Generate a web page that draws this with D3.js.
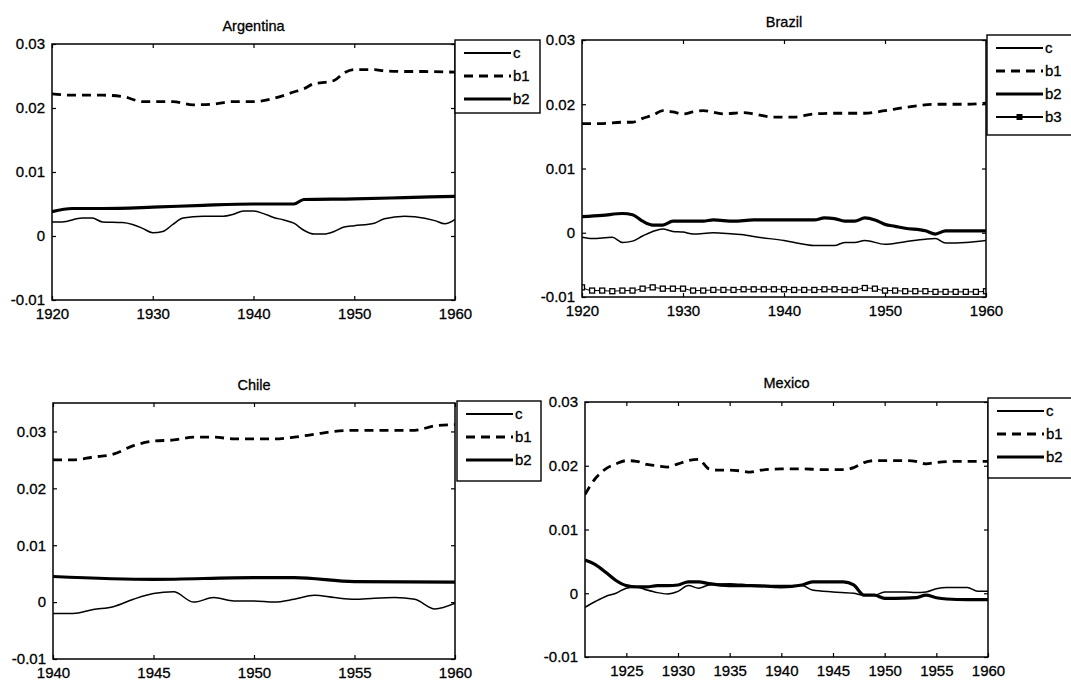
<!DOCTYPE html>
<html>
<head>
<meta charset="utf-8">
<script src="https://cdn.jsdelivr.net/npm/d3@7"></script>
<style>
  html, body { margin: 0; padding: 0; background: #fff; }
  svg { display: block; }
  text { font-family: "Liberation Sans", Arial, Helvetica, sans-serif; fill: #000; stroke: #000; stroke-width: 0.3px; }
</style>
</head>
<body>
<svg id="chart" width="1071" height="680"></svg>
<script>
// ---------------- DATA ([year, value]) ----------------
const argC  = [[1920,0.0022],[1921,0.0022],[1923,0.0028],[1924,0.0028],[1925,0.0022],[1927,0.0021],[1928,0.0018],[1929,0.0012],[1930,0.0005],[1931,0.0007],[1932,0.0018],[1933,0.0028],[1935,0.0031],[1937,0.0031],[1938,0.0034],[1939,0.0039],[1940,0.0039],[1941,0.0035],[1942,0.0029],[1943,0.0025],[1944,0.002],[1945,0.0009],[1946,0.0003],[1947,0.0003],[1948,0.0007],[1949,0.0014],[1950,0.0016],[1952,0.002],[1953,0.0027],[1955,0.0031],[1956,0.003],[1958,0.0024],[1959,0.0019],[1960,0.0026]];
const argB1 = [[1920,0.0222],[1922,0.022],[1925,0.022],[1927,0.0218],[1929,0.021],[1930,0.021],[1932,0.021],[1934,0.0205],[1936,0.0206],[1938,0.021],[1940,0.021],[1942,0.0215],[1944,0.0225],[1945,0.023],[1946,0.0238],[1947,0.024],[1948,0.0243],[1949,0.0255],[1950,0.026],[1952,0.026],[1953,0.0258],[1955,0.0257],[1957,0.0257],[1960,0.0256]];
const argB2 = [[1920,0.0038],[1922,0.0043],[1925,0.0043],[1930,0.0045],[1935,0.0048],[1940,0.005],[1944,0.005],[1945,0.0057],[1950,0.0058],[1955,0.006],[1960,0.0062]];

const braC  = [[1920,-0.0007],[1921,-0.0009],[1923,-0.0007],[1924,-0.0015],[1925,-0.0013],[1926,-0.0005],[1927,0.0002],[1928,0.0006],[1929,0.0002],[1930,0.0001],[1931,-0.0002],[1933,0.0],[1935,-0.0002],[1936,-0.0003],[1937,-0.0006],[1940,-0.0012],[1942,-0.0018],[1943,-0.002],[1945,-0.002],[1946,-0.0015],[1947,-0.0015],[1948,-0.0012],[1950,-0.0018],[1952,-0.0014],[1954,-0.001],[1955,-0.0009],[1956,-0.0016],[1958,-0.0015],[1960,-0.0012]];
const braB1 = [[1920,0.017],[1922,0.017],[1924,0.0172],[1925,0.0172],[1926,0.0178],[1927,0.0183],[1928,0.019],[1929,0.0188],[1930,0.0185],[1931,0.0188],[1932,0.019],[1934,0.0185],[1936,0.0187],[1937,0.0185],[1939,0.018],[1941,0.018],[1943,0.0185],[1945,0.0186],[1948,0.0186],[1950,0.019],[1952,0.0195],[1955,0.02],[1958,0.02],[1960,0.0202]];
const braB2 = [[1920,0.0025],[1922,0.0027],[1924,0.003],[1925,0.0028],[1926,0.0018],[1927,0.0012],[1928,0.0012],[1929,0.0018],[1930,0.0018],[1932,0.0018],[1933,0.002],[1935,0.0018],[1937,0.002],[1940,0.002],[1943,0.002],[1944,0.0023],[1945,0.0022],[1946,0.0018],[1947,0.0018],[1948,0.0023],[1949,0.002],[1950,0.0013],[1951,0.001],[1952,0.0007],[1954,0.0003],[1955,-0.0002],[1956,0.0003],[1958,0.0003],[1960,0.0003]];
const braB3 = [[1920,-0.0085],[1921,-0.009],[1922,-0.009],[1923,-0.0091],[1924,-0.009],[1925,-0.009],[1926,-0.0087],[1927,-0.0085],[1928,-0.0087],[1929,-0.0087],[1930,-0.0087],[1931,-0.009],[1932,-0.009],[1933,-0.0089],[1934,-0.0089],[1935,-0.0089],[1936,-0.0088],[1937,-0.0088],[1938,-0.0088],[1939,-0.0088],[1940,-0.0088],[1941,-0.0089],[1942,-0.0089],[1943,-0.0089],[1944,-0.0088],[1945,-0.0088],[1946,-0.0089],[1947,-0.0089],[1948,-0.0086],[1949,-0.0087],[1950,-0.009],[1951,-0.009],[1952,-0.0091],[1953,-0.0091],[1954,-0.0091],[1955,-0.0092],[1956,-0.0092],[1957,-0.0092],[1958,-0.0092],[1959,-0.0092],[1960,-0.0091]];

const chiC  = [[1940,-0.002],[1941,-0.002],[1942,-0.0013],[1943,-0.0008],[1944,0.0005],[1945,0.0015],[1946,0.0018],[1947,0.0],[1948,0.0008],[1949,0.0002],[1950,0.0002],[1951,0.0],[1952,0.0005],[1953,0.0012],[1954,0.0008],[1955,0.0005],[1956,0.0007],[1957,0.0008],[1958,0.0005],[1959,-0.0012],[1960,-0.0002]];
const chiB1 = [[1940,0.025],[1941,0.025],[1942,0.0255],[1943,0.026],[1944,0.0275],[1945,0.0283],[1946,0.0285],[1947,0.029],[1948,0.029],[1949,0.0287],[1950,0.0287],[1951,0.0287],[1952,0.029],[1953,0.0295],[1954,0.03],[1955,0.0302],[1956,0.0302],[1957,0.0302],[1958,0.0302],[1959,0.031],[1960,0.0312]];
const chiB2 = [[1940,0.0045],[1945,0.004],[1950,0.0043],[1952,0.0043],[1955,0.0036],[1960,0.0035]];

const mexC  = [[1921,-0.0022],[1922,-0.0013],[1923,-0.0005],[1924,0.0],[1925,0.0008],[1926,0.001],[1927,0.0005],[1928,0.0001],[1929,-0.0001],[1930,0.0003],[1931,0.0012],[1932,0.0008],[1933,0.0013],[1935,0.0015],[1937,0.0013],[1940,0.0012],[1942,0.0012],[1943,0.0005],[1945,0.0002],[1947,0.0],[1948,-0.0003],[1949,-0.0003],[1950,0.0002],[1952,0.0002],[1953,0.0001],[1954,0.0002],[1955,0.0007],[1956,0.0009],[1958,0.0009],[1959,0.0003],[1960,0.0003]];
const mexB1 = [[1921,0.0155],[1922,0.018],[1923,0.0195],[1924,0.0203],[1925,0.0208],[1926,0.0207],[1927,0.0202],[1928,0.02],[1929,0.0198],[1930,0.0203],[1931,0.0208],[1932,0.021],[1933,0.0195],[1934,0.0193],[1935,0.0193],[1936,0.0192],[1937,0.019],[1938,0.0193],[1940,0.0195],[1942,0.0195],[1944,0.0194],[1946,0.0194],[1947,0.0197],[1948,0.0205],[1949,0.0208],[1950,0.0208],[1952,0.0208],[1953,0.0207],[1954,0.0203],[1955,0.0205],[1957,0.0207],[1960,0.0207]];
const mexB2 = [[1921,0.0052],[1922,0.0045],[1923,0.0033],[1924,0.002],[1925,0.0012],[1926,0.001],[1927,0.001],[1928,0.0012],[1929,0.0012],[1930,0.0013],[1931,0.0018],[1932,0.0018],[1933,0.0015],[1935,0.0012],[1937,0.0012],[1940,0.001],[1942,0.0013],[1943,0.0018],[1944,0.0018],[1946,0.0018],[1947,0.0013],[1948,-0.0003],[1949,-0.0003],[1950,-0.0008],[1951,-0.0008],[1953,-0.0007],[1954,-0.0003],[1955,-0.0007],[1956,-0.0009],[1958,-0.001],[1960,-0.001]];

const titles = ["Argentina", "Brazil", "Chile", "Mexico"];
const yTicksAll = [-0.01, 0, 0.01, 0.02, 0.03];
const xTicksDecade = [1920, 1930, 1940, 1950, 1960];
const xTicksChile = [1940, 1945, 1950, 1955, 1960];
const xTicksMexico = [1925, 1930, 1935, 1940, 1945, 1950, 1955, 1960];
const legendLabels3 = ["c", "b1", "b2"];
const legendLabels4 = ["c", "b1", "b2", "b3"];

// ---------------- STYLES ----------------
const styles = {
  c:  { w: 1.5, dash: null, marker: false },
  b1: { w: 2.8, dash: "9,6", marker: false },
  b2: { w: 3.2, dash: null, marker: false },
  b3: { w: 1.0, dash: null, marker: true }
};

const panels = [
  { title: titles[0], x0: 52, x1: 455, y0: 44, y1: 300, xd: [1920,1960], yd: [-0.01,0.03], xt: xTicksDecade,
    series: { c: argC, b1: argB1, b2: argB2 }, lg: { x: 455, y: 40, w: 85, h: 73, labels: legendLabels3 }, ty: 31 },
  { title: titles[1], x0: 582, x1: 986, y0: 40, y1: 297, xd: [1920,1960], yd: [-0.01,0.03], xt: xTicksDecade,
    series: { c: braC, b1: braB1, b2: braB2, b3: braB3 }, lg: { x: 987, y: 35, w: 90, h: 100, labels: legendLabels4 }, ty: 27 },
  { title: titles[2], x0: 53, x1: 455, y0: 403, y1: 659, xd: [1940,1960], yd: [-0.01,0.035], xt: xTicksChile,
    series: { c: chiC, b1: chiB1, b2: chiB2 }, lg: { x: 457, y: 401, w: 84, h: 80, labels: legendLabels3 }, ty: 390 },
  { title: titles[3], x0: 585, x1: 988, y0: 402, y1: 657, xd: [1921,1960], yd: [-0.01,0.03], xt: xTicksMexico,
    series: { c: mexC, b1: mexB1, b2: mexB2 }, lg: { x: 988, y: 398, w: 90, h: 80, labels: legendLabels3 }, ty: 388 }
];

const svg = d3.select("#chart");

panels.forEach(p => {
  const g = svg.append("g");
  const x = d3.scaleLinear().domain(p.xd).range([p.x0, p.x1]);
  const y = d3.scaleLinear().domain(p.yd).range([p.y1, p.y0]);
  const fmtY = v => v === 0 ? "0" : (v < 0 ? "-" + d3.format(".2f")(-v) : d3.format(".2f")(v));

  // series
  const clipId = "clip-" + p.title;
  g.append("clipPath").attr("id", clipId).append("rect")
    .attr("x", p.x0).attr("y", p.y0 - 3).attr("width", p.x1 - p.x0).attr("height", p.y1 - p.y0 + 6);
  const line = d3.line().x(d => x(d[0])).y(d => y(d[1])).curve(d3.curveMonotoneX);
  const sg = g.append("g").attr("clip-path", `url(#${clipId})`);
  Object.entries(p.series).forEach(([k, data]) => {
    const s = styles[k];
    sg.append("path").datum(data).attr("d", line)
      .attr("fill", "none").attr("stroke", "#000").attr("stroke-width", s.w)
      .attr("stroke-dasharray", s.dash).attr("stroke-linejoin", "round");
    if (s.marker) {
      sg.selectAll(".mk-" + k).data(data).enter().append("rect")
        .attr("x", d => x(d[0]) - 2.5).attr("y", d => y(d[1]) - 2.5)
        .attr("width", 5).attr("height", 5)
        .attr("fill", "#fff").attr("stroke", "#000").attr("stroke-width", 1.3);
    }
  });

  // axes (MATLAB style: ticks inward on all sides)
  const xAxisB = d3.axisBottom(x).tickValues(p.xt).tickSize(-4).tickPadding(8).tickFormat(d3.format("d"));
  const xAxisT = d3.axisTop(x).tickValues(p.xt).tickSize(-4).tickFormat("");
  const yAxisL = d3.axisLeft(y).tickValues(yTicksAll).tickSize(-4).tickPadding(7).tickFormat(fmtY);
  const yAxisR = d3.axisRight(y).tickValues(yTicksAll).tickSize(-4).tickFormat("");
  const ax = [
    g.append("g").attr("transform", `translate(0,${p.y1})`).call(xAxisB),
    g.append("g").attr("transform", `translate(0,${p.y0})`).call(xAxisT),
    g.append("g").attr("transform", `translate(${p.x0},0)`).call(yAxisL),
    g.append("g").attr("transform", `translate(${p.x1},0)`).call(yAxisR)
  ];
  ax.forEach(a => {
    a.select(".domain").remove();
    a.selectAll(".tick line").attr("stroke", "#000").attr("stroke-width", 1.2);
    a.selectAll(".tick text").attr("font-size", 15).attr("fill", "#000")
      .style("font-family", '"Liberation Sans", Arial, sans-serif');
  });
  g.append("rect").attr("x", p.x0).attr("y", p.y0).attr("width", p.x1 - p.x0).attr("height", p.y1 - p.y0)
    .attr("fill", "none").attr("stroke", "#000").attr("stroke-width", 1.5);

  // title
  g.append("text").attr("x", (p.x0 + p.x1) / 2).attr("y", p.ty).attr("text-anchor", "middle")
    .attr("font-size", 14.5).text(p.title);

  // legend
  const L = p.lg;
  g.append("rect").attr("x", L.x).attr("y", L.y).attr("width", L.w).attr("height", L.h)
    .attr("fill", "#fff").attr("stroke", "#000").attr("stroke-width", 1.4);
  const step = 23;
  L.labels.forEach((lab, i) => {
    const s = styles[lab];
    const yy = L.y + 13 + i * step;
    g.append("line").attr("x1", L.x + 9).attr("x2", L.x + 56).attr("y1", yy).attr("y2", yy)
      .attr("stroke", "#000").attr("stroke-width", Math.max(s.w, 1.8)).attr("stroke-dasharray", s.dash);
    if (s.marker) {
      g.append("rect").attr("x", L.x + 30).attr("y", yy - 2.5).attr("width", 5).attr("height", 5)
        .attr("fill", "#000").attr("stroke", "#000");
    }
    g.append("text").attr("x", L.x + 58).attr("y", yy + 5).attr("font-size", 15).text(lab);
  });
});
</script>
</body>
</html>
